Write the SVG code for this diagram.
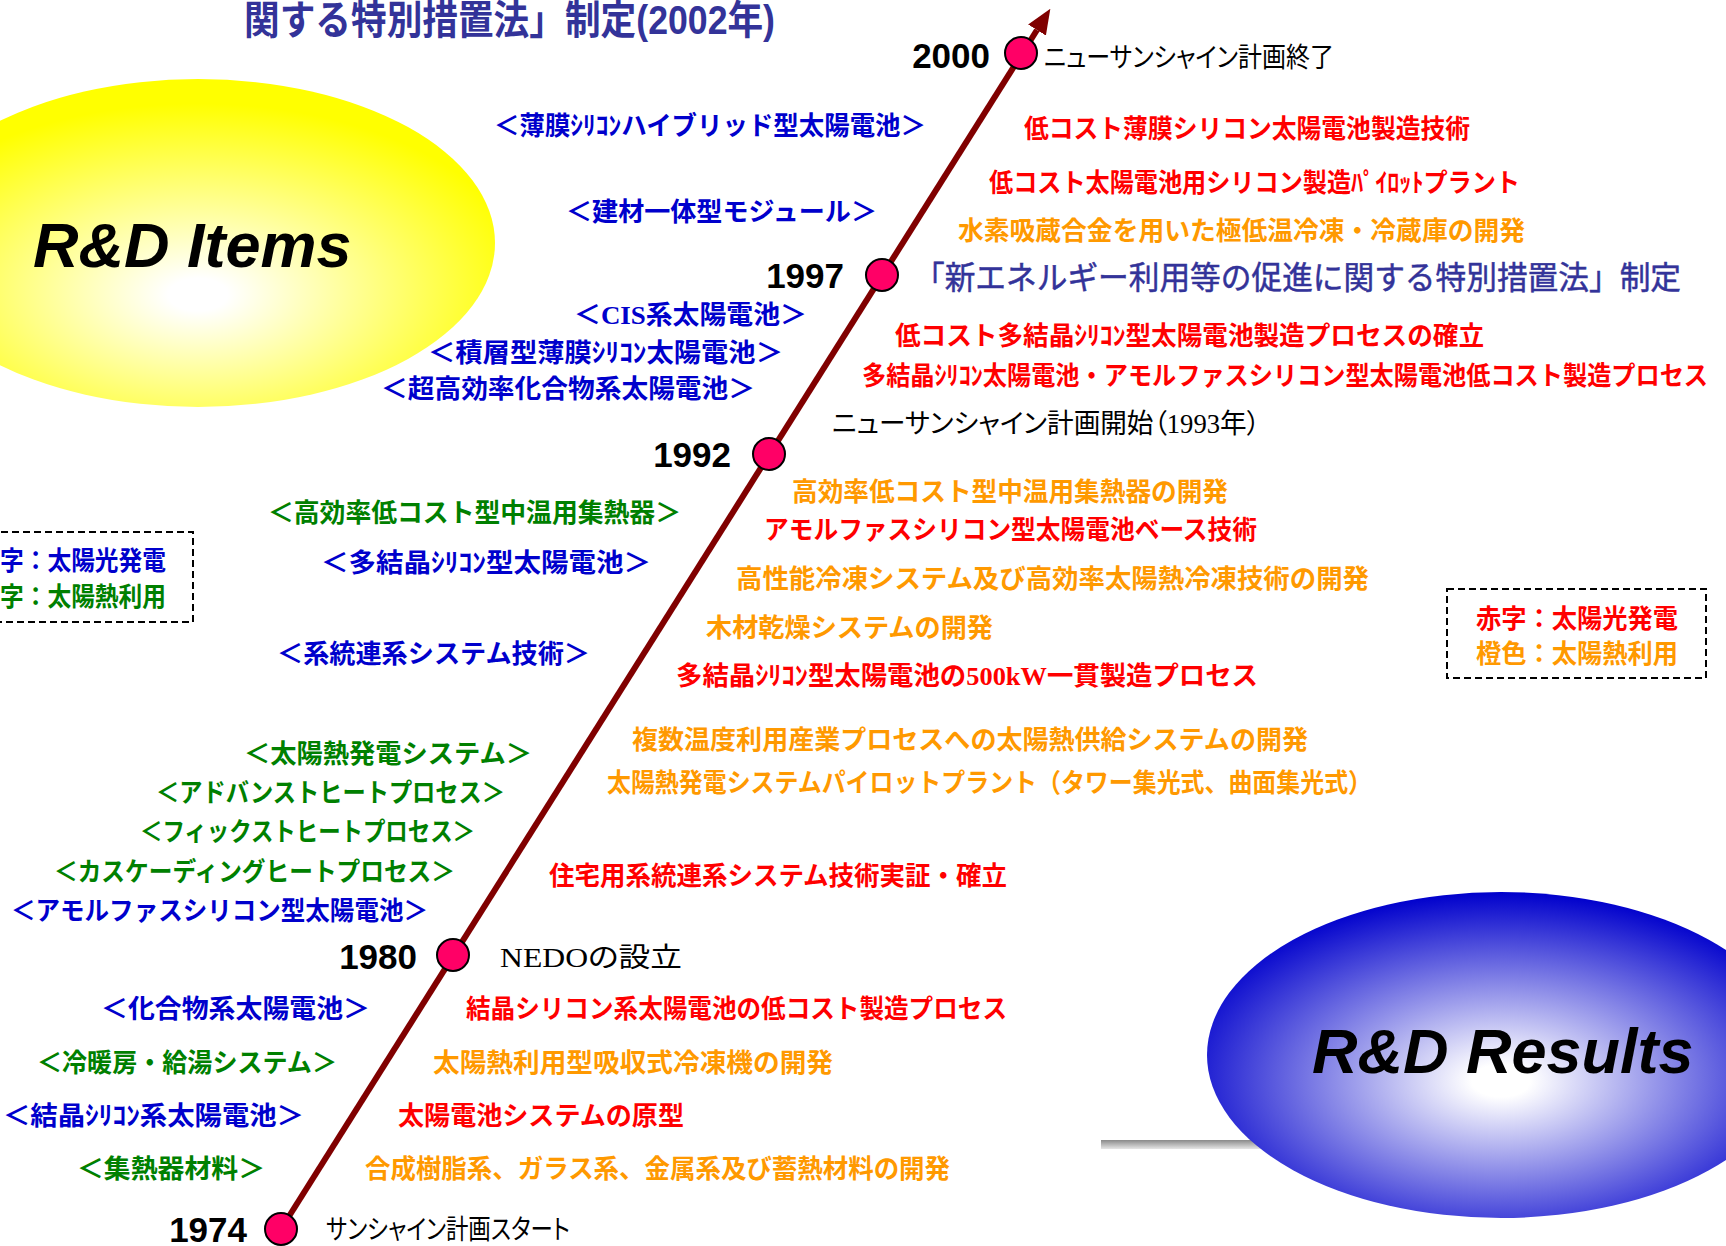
<svg xmlns="http://www.w3.org/2000/svg" width="1726" height="1246" viewBox="0 0 1726 1246">
<defs>
<radialGradient id="gy" cx="0.5" cy="0.63" r="0.62" fx="0.5" fy="0.66">
<stop offset="0" stop-color="#FFFFFF"/>
<stop offset="0.08" stop-color="#FFFFFF"/>
<stop offset="0.9" stop-color="#FFFF00"/>
<stop offset="1" stop-color="#FFFF00"/>
</radialGradient>
<radialGradient id="gb" cx="0.5" cy="0.57" r="0.62" fx="0.5" fy="0.58">
<stop offset="0" stop-color="#FFFFFF"/>
<stop offset="0.08" stop-color="#FFFFFF"/>
<stop offset="0.92" stop-color="#0000CC"/>
<stop offset="1" stop-color="#0000CC"/>
</radialGradient>
<linearGradient id="gs" x1="0" y1="0" x2="0" y2="1">
<stop offset="0" stop-color="#8A8A8A"/>
<stop offset="1" stop-color="#E6E6E6"/>
</linearGradient>
<marker id="ah" viewBox="0 0 25 21" refX="0" refY="10.5" markerWidth="25" markerHeight="21" markerUnits="userSpaceOnUse" orient="auto">
<path d="M0,0 L25,10.5 L0,21 z" fill="#800000"/>
</marker>
</defs>
<style>
text { font-family: "Liberation Serif", "Noto Sans CJK JP", serif; }
.sans { font-family: "Liberation Sans", "Noto Sans CJK JP", sans-serif; }
.big { font-family: "Liberation Sans", Arial, sans-serif; font-weight: bold; font-style: italic; font-size: 63px; fill: #000000; }
.bd { font-weight: bold; font-size: 26px; }
.ev { font-weight: normal; font-size: 27px; fill: #000000; font-feature-settings: "palt"; }
.yr { font-family: "Liberation Sans", Arial, sans-serif; font-weight: bold; font-size: 35px; text-anchor: end; fill: #000000; }
.b { fill: #0000CC; }
.g { fill: #008000; }
.r { fill: #FF0000; }
.o { fill: #FF9900; }
.t { fill: #333399; }
.dot { fill: #FF0066; stroke: #000000; stroke-width: 2; }
.leg { fill: none; stroke: #000000; stroke-width: 2; stroke-dasharray: 7 4; }
</style>
<rect x="0" y="0" width="1726" height="1246" fill="#FFFFFF"/>

<g id="rd-items">
<ellipse cx="198" cy="243" rx="297" ry="164" fill="url(#gy)"/>
<text class="big" x="33" y="267">R&amp;D Items</text>
</g>

<g id="rd-results">
<rect x="1101" y="1140" width="170" height="9" fill="url(#gs)"/>
<ellipse cx="1501" cy="1055" rx="294" ry="163" fill="url(#gb)"/>
<text class="big" x="1312" y="1073">R&amp;D Results</text>
</g>

<g id="title-top">
<text class="sans t" x="244" y="34" font-weight="bold" font-size="40" textLength="531" lengthAdjust="spacingAndGlyphs">関する特別措置法」制定(2002年)</text>
</g>

<g id="connectors">
<line x1="281" y1="1229" x2="1037" y2="30" stroke="#800000" stroke-width="6" marker-end="url(#ah)"/>
</g>

<g id="y2000"><circle class="dot" cx="1021" cy="53" r="16"/><text class="yr" x="990" y="68">2000</text></g>
<g id="y1997"><circle class="dot" cx="882" cy="275" r="16"/><text class="yr" x="844" y="288">1997</text></g>
<g id="y1992"><circle class="dot" cx="769" cy="454" r="16"/><text class="yr" x="731" y="467">1992</text></g>
<g id="y1980"><circle class="dot" cx="453" cy="955" r="16"/><text class="yr" x="417" y="969">1980</text></g>
<g id="y1974"><circle class="dot" cx="281" cy="1229" r="16"/><text class="yr" x="247" y="1242">1974</text></g>

<g id="events">
<text class="ev" x="1044" y="67" textLength="290" lengthAdjust="spacingAndGlyphs">ニューサンシャイン計画終了</text>
<text class="ev" x="832" y="433" textLength="428" lengthAdjust="spacingAndGlyphs">ニューサンシャイン計画開始（1993年）</text>
<text class="ev" x="500" y="967" textLength="182" lengthAdjust="spacingAndGlyphs">NEDOの設立</text>
<text class="ev" x="326" y="1239" textLength="244" lengthAdjust="spacingAndGlyphs">サンシャイン計画スタート</text>
<text class="t" x="914" y="289" font-size="32" stroke="#333399" stroke-width="0.5" textLength="767" lengthAdjust="spacingAndGlyphs">「新エネルギー利用等の促進に関する特別措置法」制定</text>
</g>

<g id="items">
<text class="bd b" x="494" y="135" textLength="432" lengthAdjust="spacingAndGlyphs">＜薄膜ｼﾘｺﾝハイブリッド型太陽電池＞</text>
<text class="bd b" x="566" y="221" textLength="311" lengthAdjust="spacingAndGlyphs">＜建材一体型モジュール＞</text>
<text class="bd b" x="574" y="324" textLength="233" lengthAdjust="spacingAndGlyphs">＜CIS系太陽電池＞</text>
<text class="bd b" x="428" y="362" textLength="355" lengthAdjust="spacingAndGlyphs">＜積層型薄膜ｼﾘｺﾝ太陽電池＞</text>
<text class="bd b" x="381" y="398" textLength="374" lengthAdjust="spacingAndGlyphs">＜超高効率化合物系太陽電池＞</text>
<text class="bd g" x="268" y="522" textLength="413" lengthAdjust="spacingAndGlyphs">＜高効率低コスト型中温用集熱器＞</text>
<text class="bd b" x="321" y="572" textLength="330" lengthAdjust="spacingAndGlyphs">＜多結晶ｼﾘｺﾝ型太陽電池＞</text>
<text class="bd b" x="277" y="663" textLength="313" lengthAdjust="spacingAndGlyphs">＜系統連系システム技術＞</text>
<text class="bd g" x="244" y="763" textLength="288" lengthAdjust="spacingAndGlyphs">＜太陽熱発電システム＞</text>
<text class="bd g" x="156" y="802" textLength="349" lengthAdjust="spacingAndGlyphs">＜アドバンストヒートプロセス＞</text>
<text class="bd g" x="140" y="841" textLength="335" lengthAdjust="spacingAndGlyphs">＜フィックストヒートプロセス＞</text>
<text class="bd g" x="54" y="881" textLength="401" lengthAdjust="spacingAndGlyphs">＜カスケーディングヒートプロセス＞</text>
<text class="bd b" x="11" y="920" textLength="417" lengthAdjust="spacingAndGlyphs">＜アモルファスシリコン型太陽電池＞</text>
<text class="bd b" x="101" y="1018" textLength="269" lengthAdjust="spacingAndGlyphs">＜化合物系太陽電池＞</text>
<text class="bd g" x="37" y="1072" textLength="300" lengthAdjust="spacingAndGlyphs">＜冷暖房・給湯システム＞</text>
<text class="bd b" x="3" y="1125" textLength="301" lengthAdjust="spacingAndGlyphs">＜結晶ｼﾘｺﾝ系太陽電池＞</text>
<text class="bd g" x="77" y="1178" textLength="188" lengthAdjust="spacingAndGlyphs">＜集熱器材料＞</text>
</g>

<g id="results">
<text class="bd r" x="1024" y="138" textLength="446" lengthAdjust="spacingAndGlyphs">低コスト薄膜シリコン太陽電池製造技術</text>
<text class="bd r" x="989" y="192" textLength="531" lengthAdjust="spacingAndGlyphs">低コスト太陽電池用シリコン製造ﾊﾟｲﾛｯﾄプラント</text>
<text class="bd o" x="958" y="240" textLength="567" lengthAdjust="spacingAndGlyphs">水素吸蔵合金を用いた極低温冷凍・冷蔵庫の開発</text>
<text class="bd r" x="895" y="345" textLength="589" lengthAdjust="spacingAndGlyphs">低コスト多結晶ｼﾘｺﾝ型太陽電池製造プロセスの確立</text>
<text class="bd r" x="862" y="385" font-size="24" textLength="846" lengthAdjust="spacingAndGlyphs">多結晶ｼﾘｺﾝ太陽電池・アモルファスシリコン型太陽電池低コスト製造プロセス</text>
<text class="bd o" x="792" y="501" textLength="436" lengthAdjust="spacingAndGlyphs">高効率低コスト型中温用集熱器の開発</text>
<text class="bd r" x="764" y="539" textLength="493" lengthAdjust="spacingAndGlyphs">アモルファスシリコン型太陽電池ベース技術</text>
<text class="bd o" x="736" y="588" textLength="633" lengthAdjust="spacingAndGlyphs">高性能冷凍システム及び高効率太陽熱冷凍技術の開発</text>
<text class="bd o" x="706" y="637" textLength="287" lengthAdjust="spacingAndGlyphs">木材乾燥システムの開発</text>
<text class="bd r" x="676" y="685" textLength="582" lengthAdjust="spacingAndGlyphs">多結晶ｼﾘｺﾝ型太陽電池の500kW一貫製造プロセス</text>
<text class="bd o" x="632" y="749" textLength="676" lengthAdjust="spacingAndGlyphs">複数温度利用産業プロセスへの太陽熱供給システムの開発</text>
<text class="bd o" x="607" y="792" textLength="765" lengthAdjust="spacingAndGlyphs">太陽熱発電システムパイロットプラント（タワー集光式、曲面集光式）</text>
<text class="bd r" x="549" y="885" textLength="458" lengthAdjust="spacingAndGlyphs">住宅用系統連系システム技術実証・確立</text>
<text class="bd r" x="466" y="1018" textLength="541" lengthAdjust="spacingAndGlyphs">結晶シリコン系太陽電池の低コスト製造プロセス</text>
<text class="bd o" x="433" y="1072" textLength="400" lengthAdjust="spacingAndGlyphs">太陽熱利用型吸収式冷凍機の開発</text>
<text class="bd r" x="398" y="1125" textLength="286" lengthAdjust="spacingAndGlyphs">太陽電池システムの原型</text>
<text class="bd o" x="365" y="1178" textLength="585" lengthAdjust="spacingAndGlyphs">合成樹脂系、ガラス系、金属系及び蓄熱材料の開発</text>
</g>

<g id="legend-left">
<rect class="leg" x="-10" y="532" width="203" height="90"/>
<text class="bd b" x="0" y="570" textLength="166" lengthAdjust="spacingAndGlyphs">字：太陽光発電</text>
<text class="bd g" x="0" y="606" textLength="166" lengthAdjust="spacingAndGlyphs">字：太陽熱利用</text>
</g>

<g id="legend-right">
<rect class="leg" x="1447" y="589" width="259" height="89"/>
<text class="bd r" x="1476" y="628" textLength="202" lengthAdjust="spacingAndGlyphs">赤字：太陽光発電</text>
<text class="bd o" x="1476" y="663" textLength="202" lengthAdjust="spacingAndGlyphs">橙色：太陽熱利用</text>
</g>
</svg>
